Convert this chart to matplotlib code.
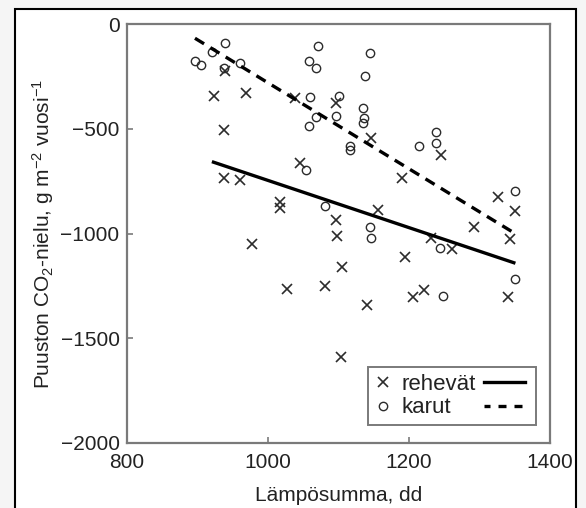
import numpy as np
import matplotlib
matplotlib.use("Agg")
import matplotlib.pyplot as plt
from matplotlib.patches import Rectangle
from matplotlib.lines import Line2D
from matplotlib.legend_handler import HandlerLine2D

# rehevat (x-merkit)
reh_x = [924, 970, 938, 938, 961, 1017, 1017, 1039, 1046, 940, 1097, 1147, 1246, 1191,
         1327, 1350, 1157, 1097, 1292, 1098, 1343, 1232, 1261, 1105, 1081, 1195, 1141,
         1206, 1222, 1340, 1104, 978, 1027]
reh_y = [-345, -331, -506, -737, -743, -850, -880, -355, -665, -222, -379, -546, -625, -737,
         -827, -893, -888, -936, -970, -1012, -1028, -1023, -1075, -1158, -1249, -1114, -1341,
         -1305, -1270, -1302, -1591, -1050, -1265]

# karut (ympyrat)
kar_x = [897, 906, 921, 940, 938, 961, 1071, 1058, 1068, 1060, 1068, 1058, 1054, 1081,
         1145, 1138, 1101, 1097, 1135, 1137, 1135, 1117, 1117, 1239, 1239, 1215, 1350,
         1145, 1147, 1244, 1350, 1249]
kar_y = [-175, -196, -135, -89, -210, -185, -105, -175, -208, -347, -442, -485, -698, -869,
         -140, -247, -344, -438, -402, -450, -474, -580, -600, -517, -570, -581, -796,
         -970, -1023, -1071, -1217, -1298]

# regressiosuorat (alku- ja loppupiste)
reh_fit_x = [921, 1351]
reh_fit_y = [-657, -1142]
kar_fit_x = [897, 1350]
kar_fit_y = [-68, -999]

xticks = [800, 1000, 1200, 1400]
yticks = [0, -500, -1000, -1500, -2000]

plt.rcParams['font.family'] = ['Liberation Sans', 'DejaVu Sans']
plt.rcParams['mathtext.fontset'] = 'custom'
plt.rcParams['mathtext.rm'] = 'Liberation Sans'
plt.rcParams['mathtext.it'] = 'Liberation Sans:italic'

W, H = 586, 508
fig = plt.figure(figsize=(W / 100, H / 100), dpi=100)
fig.patch.set_facecolor('#f5f5f5')
# musta kehys kuvan ymparilla
fig.patches.append(Rectangle((15 / W, -0.1), (576 - 15) / W, (H - 9) / H + 0.1,
                             transform=fig.transFigure, facecolor='white',
                             edgecolor='black', lw=1.5, zorder=-10))

ax = fig.add_axes([126.5 / W, 1 - 443 / H, (550 - 126.5) / W, (443 - 24) / H])
ax.set_facecolor('white')

ink = '#2b2b2b'
ax.plot(reh_x, reh_y, ls='none', marker='x', ms=7.5, mew=1.2, color=ink)
ax.plot(kar_x, kar_y, ls='none', marker='o', ms=6, mew=1.0, mfc='none', mec=ink)
ax.plot(reh_fit_x, reh_fit_y, color='black', lw=2.4, solid_capstyle='butt')
ax.plot(kar_fit_x, kar_fit_y, color='black', lw=2.4, ls=(0, (3.2, 2.2)), dash_capstyle='butt')

ax.set_xlim(800, 1400)
ax.set_ylim(-2000, 0)
ax.set_xticks(xticks)
ax.set_yticks(yticks)

for s in ax.spines.values():
    s.set_color('#7a7a7a')
    s.set_linewidth(1.6)
ax.tick_params(direction='in', length=4, width=1.2, color='#7a7a7a',
               labelsize=15, labelcolor='#222222')
ax.tick_params(axis='x', pad=7)
ax.tick_params(axis='y', pad=5)

ax.set_xlabel('Lämpösumma, dd', fontsize=15, color='#222222', labelpad=10)
ax.set_ylabel('Puuston CO$_2$-nielu, g m$^{-2}$ vuosi$^{-1}$', fontsize=15,
              color='#222222', labelpad=3)


class LongLine(HandlerLine2D):
    def create_artists(self, legend, orig_handle, xdescent, ydescent, width, height,
                       fontsize, trans):
        return super().create_artists(legend, orig_handle, xdescent, ydescent, width * 2.3,
                                      height, fontsize, trans)


h_reh = Line2D([], [], ls='none', marker='x', ms=7.5, mew=1.2, color=ink)
h_kar = Line2D([], [], ls='none', marker='o', ms=6, mew=1.0, mfc='none', mec=ink)
h_sol = Line2D([], [], color='black', lw=2.4)
h_das = Line2D([], [], color='black', lw=2.4, ls=(0.6, (2.4, 2.4)))

leg = ax.legend([h_reh, h_kar, h_sol, h_das], ['rehevät', 'karut', '   ', '   '],
                ncol=2, loc='lower right', bbox_to_anchor=(0.967, 0.043), borderaxespad=0,
                fontsize=16, handlelength=0.8, handletextpad=0.4, columnspacing=0.4,
                labelspacing=0.1, borderpad=0.3, fancybox=False, framealpha=1,
                handler_map={h_sol: LongLine(), h_das: LongLine()})
leg.get_frame().set_edgecolor('#7a7a7a')
leg.get_frame().set_linewidth(1.4)
for t in leg.get_texts():
    t.set_color('#222222')

fig.savefig('out.png', dpi=100, facecolor=fig.get_facecolor())
